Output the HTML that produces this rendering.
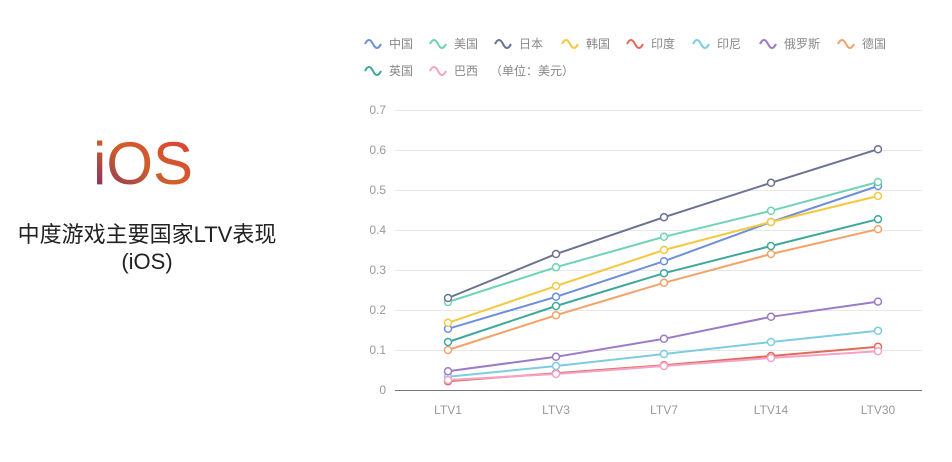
<!DOCTYPE html>
<html><head><meta charset="utf-8"><style>
body{margin:0;background:#fff;width:952px;height:457px;overflow:hidden;font-family:"Liberation Sans","Noto Sans CJK SC",sans-serif}
</style></head><body>
<svg width="952" height="457" viewBox="0 0 952 457" xmlns="http://www.w3.org/2000/svg" font-family="Liberation Sans, Noto Sans CJK SC, sans-serif">
<defs><linearGradient id="g" x1="0" y1="1" x2="1" y2="0"><stop offset="0" stop-color="#7a2a6a"/><stop offset="0.5" stop-color="#d0602a"/><stop offset="1" stop-color="#e03a3a"/></linearGradient></defs>
<text x="143" y="184" font-size="60" text-anchor="middle" fill="url(#g)" font-weight="300">iOS</text>
<text x="147" y="242" font-size="22" text-anchor="middle" fill="#222">中度游戏主要国家LTV表现</text>
<text x="147" y="269" font-size="22" text-anchor="middle" fill="#222">(iOS)</text>
<g font-size="12" fill="#999" text-anchor="end">
<text x="386" y="114">0.7</text><text x="386" y="154">0.6</text><text x="386" y="194">0.5</text><text x="386" y="234">0.4</text><text x="386" y="274">0.3</text><text x="386" y="314">0.2</text><text x="386" y="354">0.1</text><text x="386" y="394">0</text>
</g>
<g stroke="#e8e8e8" stroke-width="1">
<line x1="395" x2="922" y1="110.5" y2="110.5"/><line x1="395" x2="922" y1="150.5" y2="150.5"/><line x1="395" x2="922" y1="190.5" y2="190.5"/><line x1="395" x2="922" y1="230.5" y2="230.5"/><line x1="395" x2="922" y1="270.5" y2="270.5"/><line x1="395" x2="922" y1="310.5" y2="310.5"/><line x1="395" x2="922" y1="350.5" y2="350.5"/>
</g>
<line x1="395" x2="922" y1="390.5" y2="390.5" stroke="#777"/>
<g font-size="12" fill="#999" text-anchor="middle">
<text x="448" y="414">LTV1</text><text x="556" y="414">LTV3</text><text x="664" y="414">LTV7</text><text x="771" y="414">LTV14</text><text x="878" y="414">LTV30</text>
</g>
<g id="lines" fill="none" stroke-width="2"></g>
<g font-size="12" fill="#888" id="leg"></g>
<script>
var X=[448,556,664,771,878];
var S=[
["中国","#6f8fdc",[.153,.233,.322,.42,.51]],
["美国","#6fd3b5",[.22,.307,.383,.448,.52]],
["日本","#6b7391",[.23,.34,.432,.518,.602]],
["韩国","#f5c842",[.168,.26,.35,.42,.485]],
["印度","#e06b5b",[.022,.042,.062,.085,.108]],
["印尼","#7dcde0",[.033,.06,.09,.12,.148]],
["俄罗斯","#9b7bc8",[.047,.083,.128,.183,.221]],
["德国","#f3a36a",[.1,.187,.268,.34,.402]],
["英国","#3ea89a",[.12,.21,.292,.36,.427]],
["巴西","#f4a3c7",[.025,.04,.06,.08,.097]]];
var ns="http://www.w3.org/2000/svg",L=document.getElementById("lines"),G=document.getElementById("leg");
function el(t,a,p){var e=document.createElementNS(ns,t);for(var k in a)e.setAttribute(k,a[k]);p.appendChild(e);return e;}
S.forEach(function(s){var pts=s[2].map(function(v,i){return X[i]+","+(390-v*400).toFixed(1)}).join(" ");
el("polyline",{points:pts,stroke:s[1]},L);
s[2].forEach(function(v,i){el("circle",{cx:X[i],cy:390-v*400,r:3.5,fill:"#fff",stroke:s[1],"stroke-width":1.5},L);});});
var lx=[365,430,495,562,627,693,760,838,365,430],ly=[43,43,43,43,43,43,43,43,70,70];
S.forEach(function(s,i){var x=lx[i],y=ly[i];
el("path",{d:"M"+x+" "+(y+1)+" q4 -8 8 0 t8 0",stroke:s[1],"stroke-width":2,fill:"none"},G);
var t=el("text",{x:x+24,y:y+5},G);t.textContent=s[0];});
var t=el("text",{x:490,y:75},G);t.textContent="（单位：美元）";
</script>
</svg>
</body></html>
